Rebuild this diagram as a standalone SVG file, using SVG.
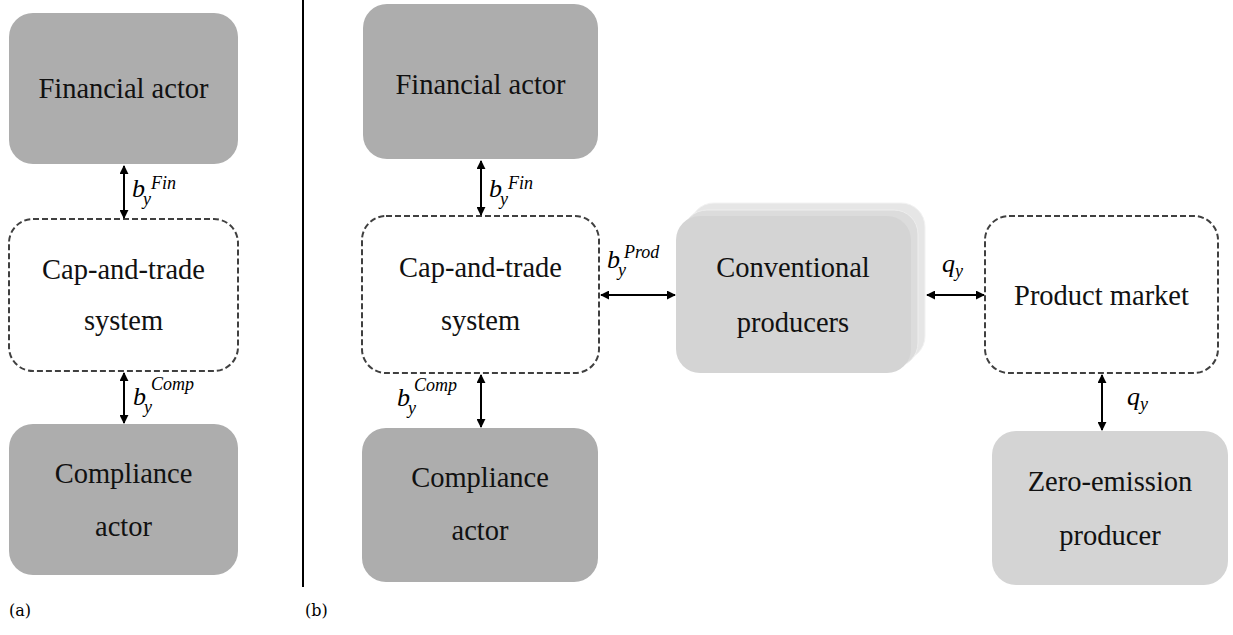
<svg xmlns="http://www.w3.org/2000/svg" width="1233" height="635" viewBox="0 0 1233 635">
<defs>
<marker id="ah" viewBox="0 0 10 10" refX="9" refY="5" markerWidth="4.5" markerHeight="4.5" orient="auto-start-reverse" markerUnits="strokeWidth">
<path d="M0,0 L10,5 L0,10 z" fill="#000"/>
</marker>
<style>
.boxdark{fill:#adadad;}
.boxlight{fill:#d4d4d4;}
.boxdash{fill:#fff;stroke:#404040;stroke-width:2;stroke-dasharray:6 3;}
.nodelabel{font-family:'Liberation Serif',serif;font-size:28.5px;fill:#111;text-anchor:middle;}
.mathlabel{font-family:'Liberation Serif',serif;font-style:italic;fill:#000;}
.mathbase{font-size:26px;}
.mathscript{font-size:18px;}
.panellabel{font-family:'DejaVu Serif',serif;font-size:16px;fill:#000;}
.arrowline{stroke:#000;stroke-width:2;fill:none;marker-start:url(#ah);marker-end:url(#ah);}
</style>
</defs>
<rect width="1233" height="635" fill="#fff"/>

<!-- Panel (a) -->
<g id="a-financial">
<rect class="boxdark" x="9" y="13" width="229" height="151" rx="24"/>
<text class="nodelabel" x="123.5" y="98">Financial actor</text>
</g>
<g id="a-cap">
<rect class="boxdash" x="9" y="219" width="229" height="152" rx="24"/>
<text class="nodelabel" x="123.5" y="279">Cap-and-trade</text>
<text class="nodelabel" x="123.5" y="330">system</text>
</g>
<g id="a-compliance">
<rect class="boxdark" x="9" y="424" width="229" height="151" rx="24"/>
<text class="nodelabel" x="123.5" y="483">Compliance</text>
<text class="nodelabel" x="123.5" y="536">actor</text>
</g>

<line x1="303" y1="0" x2="303" y2="587" stroke="#000" stroke-width="2"/>

<!-- Panel (b) -->
<g id="b-financial">
<rect class="boxdark" x="363" y="4" width="235" height="155" rx="24"/>
<text class="nodelabel" x="480.5" y="94">Financial actor</text>
</g>
<g id="b-cap">
<rect class="boxdash" x="362" y="216" width="237" height="157" rx="24"/>
<text class="nodelabel" x="480.5" y="277">Cap-and-trade</text>
<text class="nodelabel" x="480.5" y="330">system</text>
</g>
<g id="b-compliance">
<rect class="boxdark" x="362" y="428" width="236" height="154" rx="24"/>
<text class="nodelabel" x="480" y="487">Compliance</text>
<text class="nodelabel" x="480" y="540">actor</text>
</g>
<g id="b-conventional">
<rect x="690" y="203" width="235" height="157" rx="24" fill="#e6e6e6" stroke="#f2f2f2" stroke-width="1"/>
<rect x="683" y="210" width="235" height="157" rx="24" fill="#dcdcdc" stroke="#eeeeee" stroke-width="1"/>
<rect class="boxlight" x="676" y="216" width="235" height="157" rx="24"/>
<text class="nodelabel" x="793" y="277">Conventional</text>
<text class="nodelabel" x="793" y="332">producers</text>
</g>
<g id="b-product-market">
<rect class="boxdash" x="985" y="216" width="233" height="157" rx="24"/>
<text class="nodelabel" x="1101.5" y="305">Product market</text>
</g>
<g id="b-zero-emission">
<rect class="boxlight" x="992" y="431" width="236" height="154" rx="24"/>
<text class="nodelabel" x="1110" y="491">Zero-emission</text>
<text class="nodelabel" x="1110" y="545">producer</text>
</g>

<!-- Connectors -->
<g id="connectors">
<line class="arrowline" x1="124" y1="166" x2="124" y2="218"/>
<line class="arrowline" x1="124" y1="373" x2="124" y2="423"/>
<line class="arrowline" x1="481" y1="161" x2="481" y2="215"/>
<line class="arrowline" x1="481" y1="375" x2="481" y2="427"/>
<line class="arrowline" x1="601" y1="295" x2="675" y2="295"/>
<line class="arrowline" x1="927" y1="295" x2="984" y2="295"/>
<line class="arrowline" x1="1102" y1="375" x2="1102" y2="430"/>
</g>

<!-- Labels -->
<g id="labels">
<text class="mathlabel mathbase" x="132" y="197">b</text><text class="mathlabel mathscript" x="143" y="205">y</text><text class="mathlabel mathscript" x="151" y="189">Fin</text>
<text class="mathlabel mathbase" x="489" y="197">b</text><text class="mathlabel mathscript" x="500" y="205">y</text><text class="mathlabel mathscript" x="508" y="189">Fin</text>
<text class="mathlabel mathbase" x="133" y="405">b</text><text class="mathlabel mathscript" x="144" y="413">y</text><text class="mathlabel mathscript" x="151" y="390">Comp</text>
<text class="mathlabel mathbase" x="397" y="406">b</text><text class="mathlabel mathscript" x="408" y="414">y</text><text class="mathlabel mathscript" x="414" y="391">Comp</text>
<text class="mathlabel mathbase" x="607" y="268">b</text><text class="mathlabel mathscript" x="618" y="276">y</text><text class="mathlabel mathscript" x="624" y="258">Prod</text>
<text class="mathlabel mathbase" x="942" y="272">q</text><text class="mathlabel mathscript" x="955" y="277">y</text>
<text class="mathlabel mathbase" x="1127" y="405">q</text><text class="mathlabel mathscript" x="1140" y="410">y</text>
<text class="panellabel" x="9" y="616">(a)</text>
<text class="panellabel" x="305" y="616">(b)</text>
</g>
</svg>
